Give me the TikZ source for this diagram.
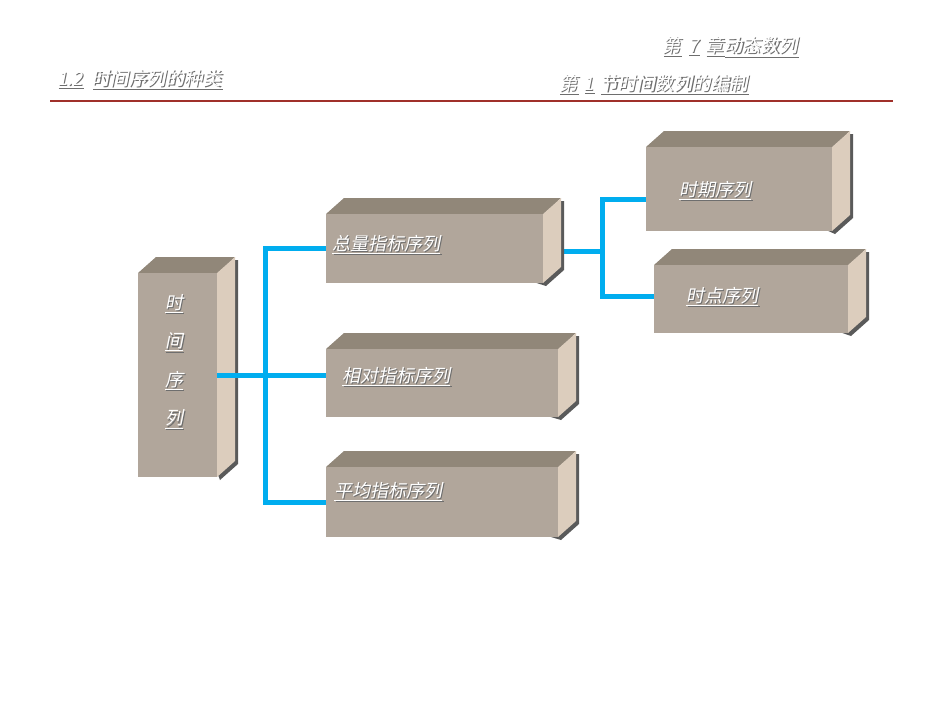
\documentclass[tikz,border=0pt]{standalone}
\usepackage{fontspec}
\usetikzlibrary{backgrounds}
\newfontfamily\cjk[FakeSlant=0.2]{Noto Sans CJK SC}

\definecolor{frontcol}{RGB}{177,166,155}
\definecolor{topcol}{RGB}{145,135,121}
\definecolor{sidecol}{RGB}{220,205,189}
\definecolor{shadecol}{RGB}{90,90,90}
\definecolor{linkcol}{RGB}{0,173,239}
\definecolor{rulecol}{RGB}{160,48,42}
\definecolor{textshade}{RGB}{110,110,110}

% white underlined text with a grey drop shadow
\newcommand{\embossed}[1]{\makebox[0pt][l]{\kern1.3pt\raisebox{-1.3pt}{\textcolor{textshade}{\underline{#1}}}}\textcolor{white}{\underline{#1}}}

% block: name, x, y, width, height (front face, top left corner)
\newcommand{\prismbox}[5]{%
  \fill[shadecol] (#2+3,#3+3) -- (#2+21,#3-13) -- (#2+#4+21,#3-13)
    -- (#2+#4+21,#3+#5-13) -- (#2+#4+3,#3+#5+3) -- cycle;
  \fill[topcol] (#2,#3) -- (#2+18,#3-16) -- (#2+#4+18,#3-16) -- (#2+#4,#3) -- cycle;
  \fill[sidecol] (#2+#4,#3) -- (#2+#4+18,#3-16) -- (#2+#4+18,#3+#5-16) -- (#2+#4,#3+#5) -- cycle;
  \node[front, minimum width=#4pt, minimum height=#5pt] (#1) at (#2,#3) {};
}

\begin{document}
\begin{tikzpicture}[x=1pt, y=-1pt,
    front/.style={rectangle, fill=frontcol, inner sep=0pt, anchor=north west},
    link/.style={draw=linkcol, line width=5pt},
    label/.style={anchor=west, inner sep=0pt, font=\cjk\fontsize{18}{20}\selectfont},
    head/.style={inner sep=0pt, font=\cjk\fontsize{18.5}{20}\selectfont}]
  \useasboundingbox (0,0) rectangle (950,713);

  % header
  \node[head, anchor=west] (sect) at (57,80) {\embossed{1.2}\hspace{9pt}\embossed{时间序列的种类}};
  \node[head, anchor=east] (chap) at (798,47) {\embossed{第}\hspace{7pt}\embossed{7}\hspace{7pt}\embossed{章}\embossed{动态数列}};
  \node[head, anchor=east] (part) at (748,85) {\embossed{第}\hspace{6pt}\embossed{1}\hspace{6pt}\embossed{节}\embossed{时间数列的编制}};
  \draw[rulecol, line width=2pt] (50,101) -- (893,101);

  % blocks
  \prismbox{series}{138}{273}{79}{204}
  \prismbox{total}{326}{214}{217}{69}
  \prismbox{relative}{326}{349}{232}{68}
  \prismbox{average}{326}{467}{232}{70}
  \prismbox{period}{646}{147}{186}{84}
  \prismbox{point}{654}{265}{194}{68}

  % labels
  \node[inner sep=0pt, align=center, font=\cjk\fontsize{18}{38.5}\selectfont]
    (seriestxt) at (174,362) {\embossed{时}\\\embossed{间}\\\embossed{序}\\\embossed{列}};
  \node[label] (totaltxt) at (332,245) {\embossed{总量指标序列}};
  \node[label] (relativetxt) at (342,377) {\embossed{相对指标序列}};
  \node[label] (averagetxt) at (334,492) {\embossed{平均指标序列}};
  \node[label] (periodtxt) at (679,191) {\embossed{时期序列}};
  \node[label] (pointtxt) at (686,297) {\embossed{时点序列}};

  % connectors
  \coordinate (j1) at (265,375);
  \coordinate (j2) at (602,251);
  \coordinate (t1) at (602,199);
  \coordinate (t2) at (602,296);
  \begin{scope}[on background layer]
    \draw[link] (total.west) -| (j1) |- (average.west);
    \draw[link] (j1) -- (j1 -| relative.west);
    \draw[link] (total.east |- j2) -- (j2);
    \draw[link] (t1 -| period.west) -- (t1) -- (t2) -- (t2 -| point.west);
  \end{scope}
  \draw[link] (series.east |- j1) -- (j1);
\end{tikzpicture}
\end{document}
